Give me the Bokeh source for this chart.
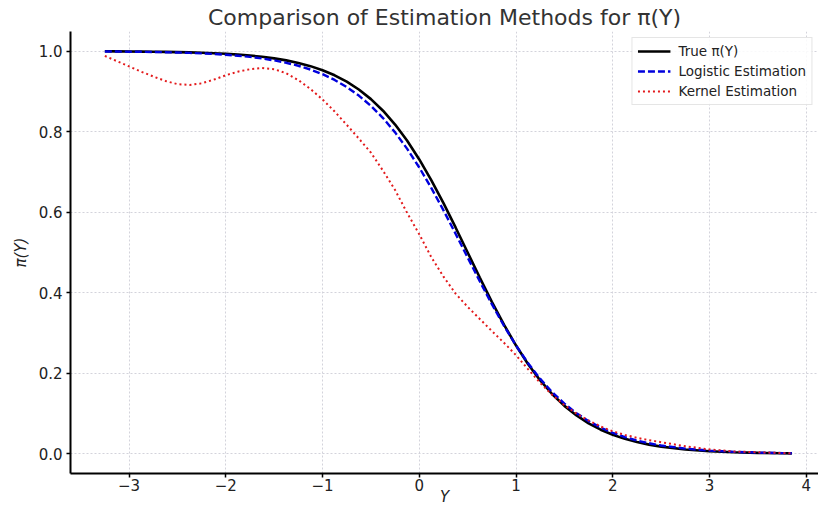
from bokeh.plotting import figure
from bokeh.models import FixedTicker, Range1d, Legend, LegendItem
from bokeh.embed import file_html
from bokeh.resources import INLINE

# ---- data ----
y_vals = [-3.25, -3.125, -3.0, -2.875, -2.75, -2.625, -2.5, -2.375, -2.25, -2.125,
          -2.0, -1.875, -1.75, -1.625, -1.5, -1.375, -1.25, -1.125, -1.0, -0.875,
          -0.75, -0.625, -0.5, -0.375, -0.25, -0.125, 0.0, 0.125, 0.25, 0.375,
          0.5, 0.625, 0.75, 0.875, 1.0, 1.125, 1.25, 1.375, 1.5, 1.625,
          1.75, 1.875, 2.0, 2.125, 2.25, 2.375, 2.5, 2.75, 3.0, 3.25,
          3.5, 3.75, 3.85]
true_pi = [0.9995, 0.9993, 0.9991, 0.9988, 0.9985, 0.9981, 0.9975, 0.9968, 0.9959, 0.9948,
           0.9933, 0.9914, 0.9890, 0.9859, 0.9820, 0.9770, 0.9707, 0.9627, 0.9526, 0.9399,
           0.9241, 0.9047, 0.8808, 0.8520, 0.8176, 0.7773, 0.7311, 0.6792, 0.6225, 0.5622,
           0.5000, 0.4378, 0.3775, 0.3208, 0.2689, 0.2227, 0.1824, 0.1481, 0.1192, 0.0954,
           0.0759, 0.0601, 0.0474, 0.0373, 0.0293, 0.0230, 0.0180, 0.0110, 0.0067, 0.0041,
           0.0025, 0.0015, 0.0012]
logistic_est = [0.9992, 0.9989, 0.9986, 0.9983, 0.9978, 0.9972, 0.9965, 0.9956, 0.9944, 0.9929,
                0.9910, 0.9886, 0.9856, 0.9818, 0.9770, 0.9710, 0.9636, 0.9542, 0.9427, 0.9284,
                0.9109, 0.8897, 0.8641, 0.8338, 0.7982, 0.7572, 0.7110, 0.6598, 0.6047, 0.5467,
                0.4875, 0.4286, 0.3717, 0.3181, 0.2689, 0.2249, 0.1862, 0.1529, 0.1246, 0.1009,
                0.0813, 0.0652, 0.0522, 0.0416, 0.0331, 0.0263, 0.0208, 0.0131, 0.0082, 0.0051,
                0.0032, 0.0020, 0.0016]
kernel_est = [0.988, 0.975, 0.962, 0.949, 0.937, 0.926, 0.918, 0.916, 0.920, 0.929,
              0.940, 0.949, 0.955, 0.958, 0.955, 0.945, 0.928, 0.906, 0.880, 0.850,
              0.817, 0.783, 0.748, 0.703, 0.655, 0.598, 0.545, 0.488, 0.440, 0.398,
              0.365, 0.335, 0.305, 0.276, 0.245, 0.210, 0.176, 0.146, 0.121, 0.100,
              0.083, 0.068, 0.056, 0.047, 0.040, 0.034, 0.029, 0.019, 0.011, 0.006,
              0.004, 0.002, 0.0015]

x_ticks = [-3, -2, -1, 0, 1, 2, 3, 4]
x_tick_labels = ["\u22123", "\u22122", "\u22121", "0", "1", "2", "3", "4"]
y_ticks = [0.0, 0.2, 0.4, 0.6, 0.8, 1.0]
y_tick_labels = ["0.0", "0.2", "0.4", "0.6", "0.8", "1.0"]

FONT = "DejaVu Sans"

p = figure(width=818, height=510, output_backend="svg", toolbar_location=None,
           x_range=Range1d(-3.605, 4.126), y_range=Range1d(-0.0487, 1.0487),
           min_border_left=70, min_border_right=0, min_border_top=31, min_border_bottom=37,
           title="Comparison of Estimation Methods for \u03c0(Y)")

p.title.align = "center"
p.title.text_font = FONT
p.title.text_font_size = "22px"
p.title.text_font_style = "normal"
p.title.text_color = "#333333"
p.title.standoff = 3
p.outline_line_color = None

for ax in (p.xaxis[0], p.yaxis[0]):
    ax.axis_line_color = "black"
    ax.axis_line_width = 2
    ax.major_tick_line_color = "black"
    ax.major_tick_line_width = 1.5
    ax.major_tick_out = 4
    ax.major_tick_in = 0
    ax.minor_tick_line_color = None
    ax.major_label_text_font = FONT
    ax.major_label_text_font_size = "15px"
    ax.major_label_text_color = "#222222"
    ax.axis_label_text_font = FONT
    ax.axis_label_text_font_size = "15px"
    ax.axis_label_text_font_style = "italic"
    ax.axis_label_text_color = "#222222"

p.xaxis.ticker = FixedTicker(ticks=x_ticks)
p.xaxis.major_label_overrides = {t: l for t, l in zip(x_ticks, x_tick_labels)}
p.yaxis.ticker = FixedTicker(ticks=y_ticks)
p.yaxis.major_label_overrides = {t: l for t, l in zip(y_ticks, y_tick_labels)}
p.xaxis.axis_label = "Y"
p.yaxis.axis_label = "\u03c0(Y)"
p.xaxis.major_label_standoff = 1
p.xaxis.axis_label_standoff = -6
p.yaxis.major_label_standoff = 4
p.yaxis.axis_label_standoff = 6

for g in (p.xgrid[0], p.ygrid[0]):
    g.grid_line_color = "#d3d3db"
    g.grid_line_dash = "2 2"
    g.grid_line_width = 1

r_true = p.line(y_vals, true_pi, line_color="black", line_width=2.6)
r_log = p.line(y_vals, logistic_est, line_color="#0000dd", line_width=2.4, line_dash="7 3")
r_ker = p.line(y_vals, kernel_est, line_color="#e31a1c", line_width=2, line_dash="2 3")

legend = Legend(items=[
    LegendItem(label="True \u03c0(Y)", renderers=[r_true]),
    LegendItem(label="Logistic Estimation", renderers=[r_log]),
    LegendItem(label="Kernel Estimation", renderers=[r_ker]),
], location="top_right")
legend.label_text_font = FONT
legend.label_text_font_size = "13.5px"
legend.label_text_color = "#222222"
legend.glyph_width = 33
legend.glyph_height = 14
legend.spacing = 4
legend.padding = 5
legend.margin = 6
legend.label_standoff = 8
legend.label_height = 14
legend.border_line_color = "#cccccc"
legend.border_line_width = 1
legend.background_fill_alpha = 0.85
p.add_layout(legend)

open("out.html", "w").write(file_html(p, INLINE))
